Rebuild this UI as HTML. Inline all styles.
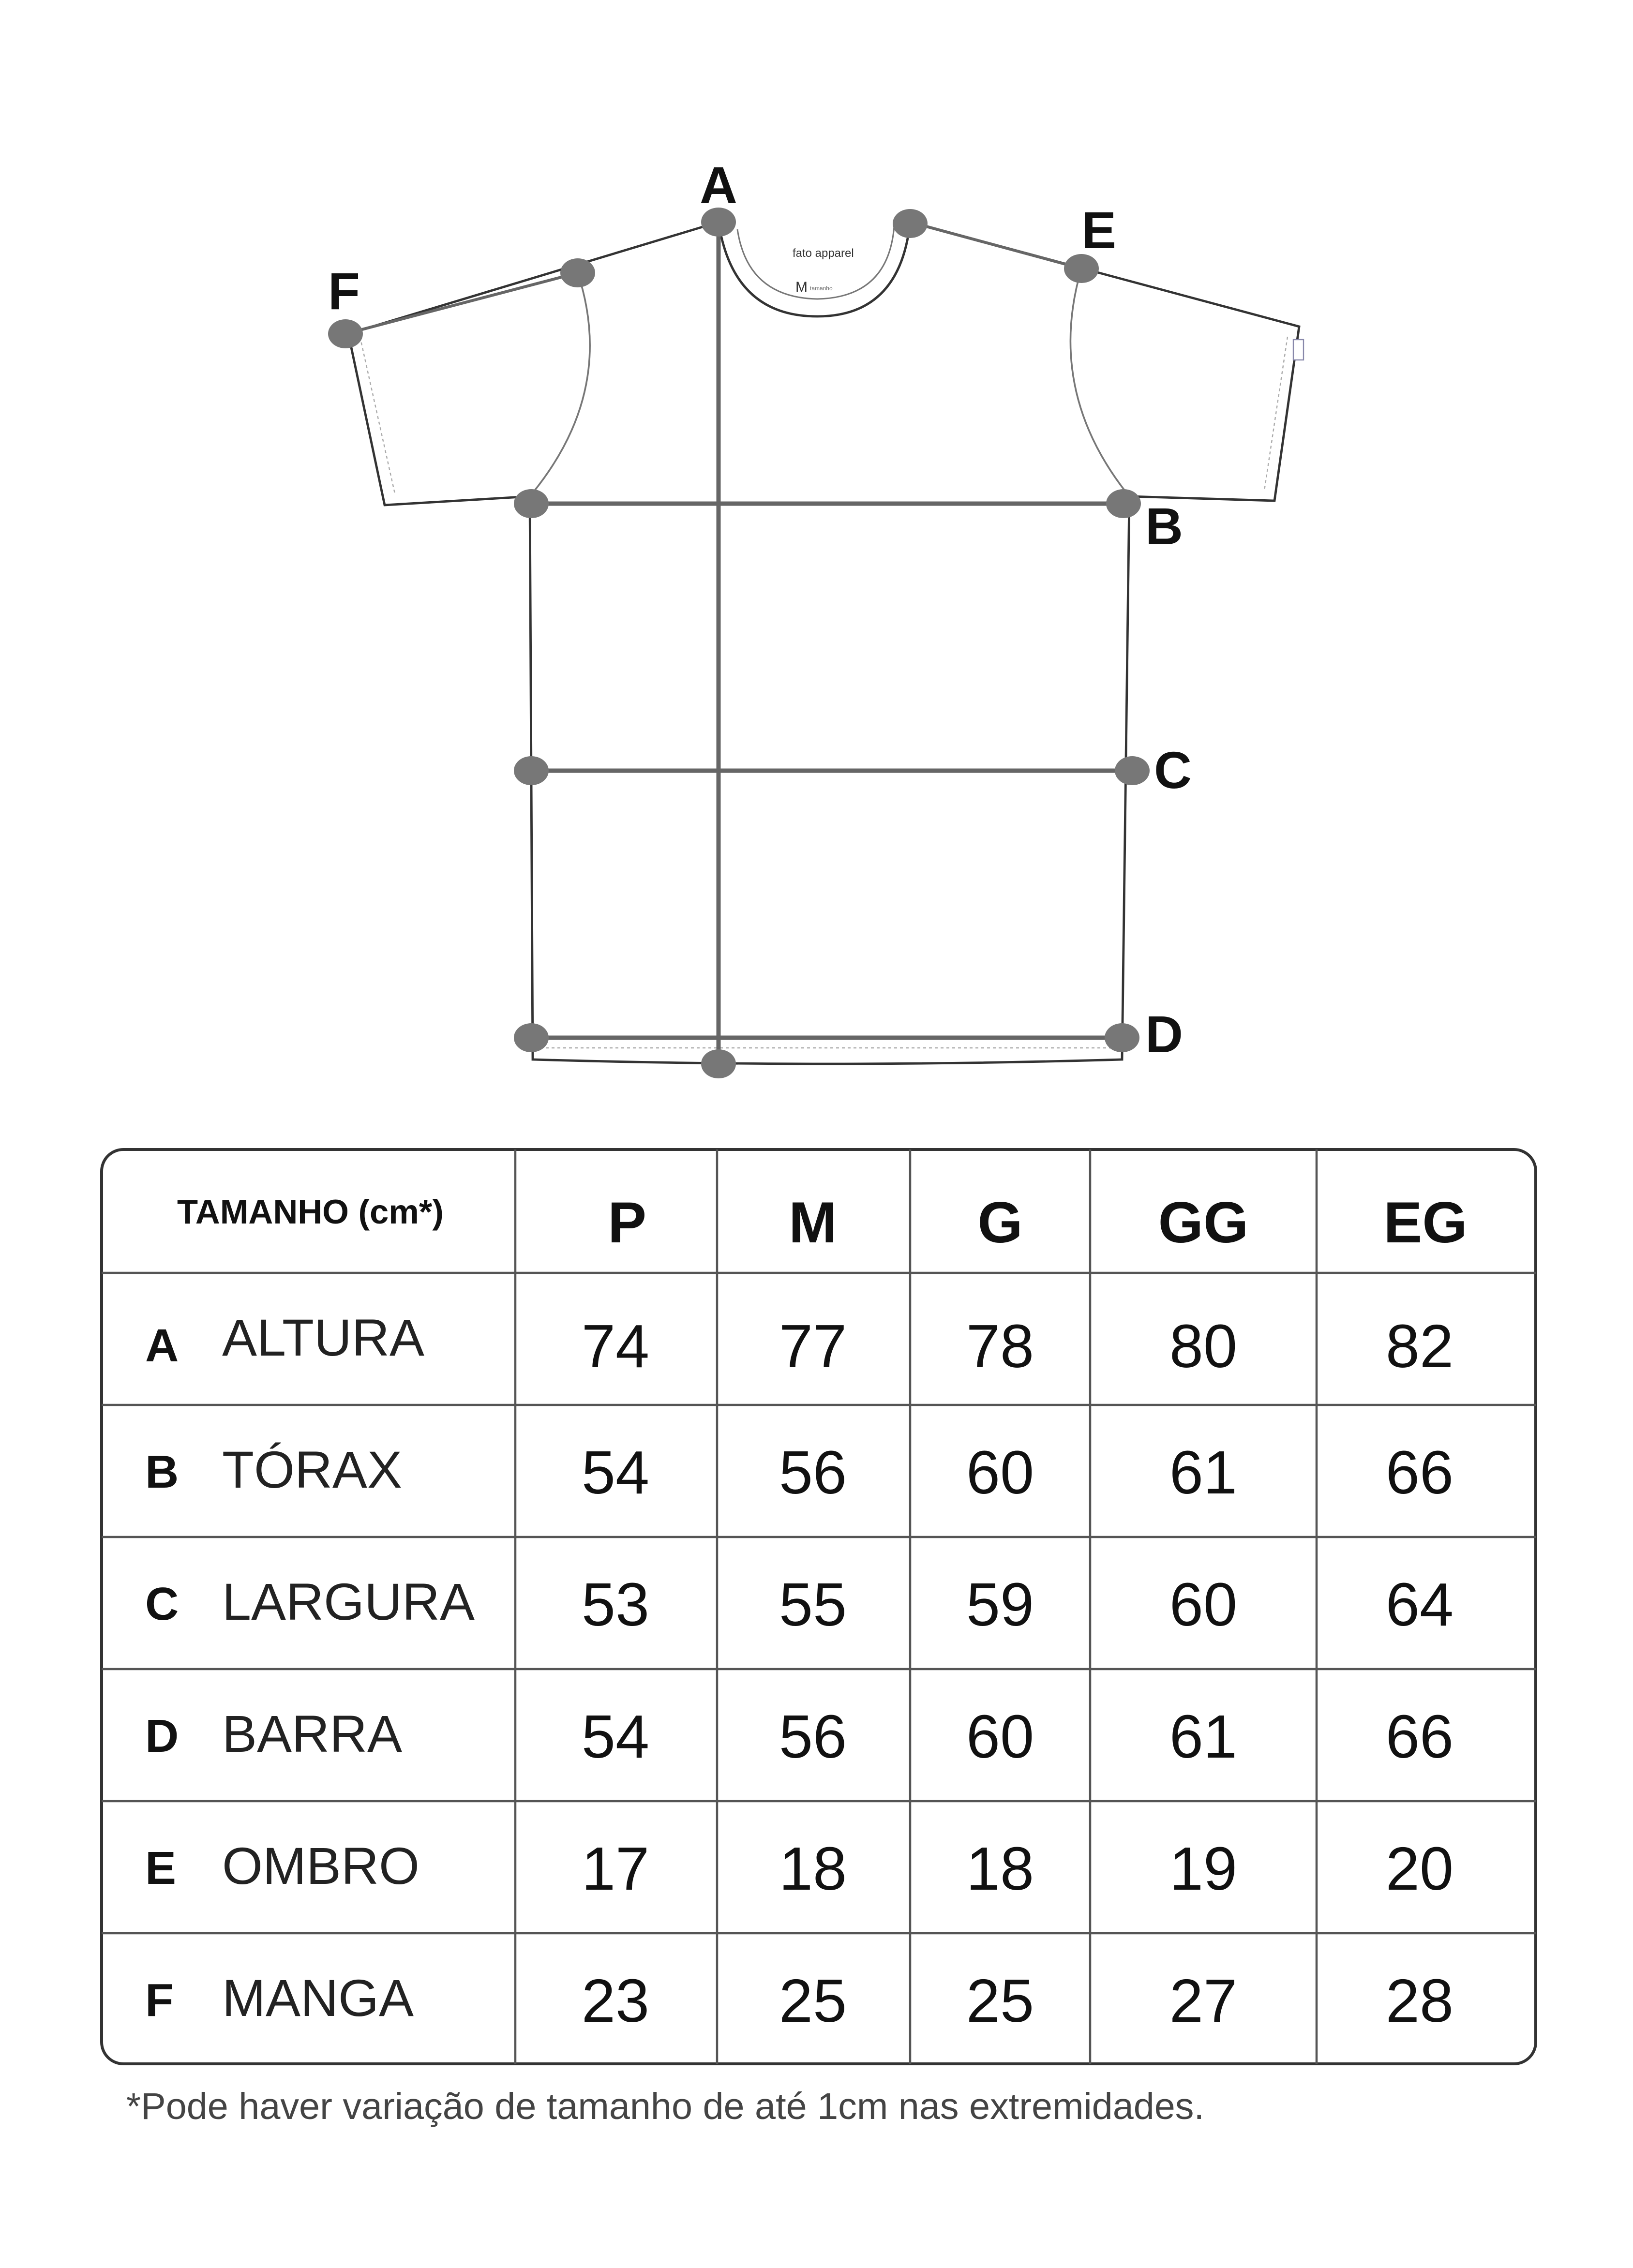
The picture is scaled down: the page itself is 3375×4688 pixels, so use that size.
<!DOCTYPE html>
<html><head><meta charset="utf-8"><style>
html,body{margin:0;padding:0;background:#fff;}
svg{display:block;}
text{font-family:"Liberation Sans",sans-serif;}
</style></head><body>
<svg width="3375" height="4688" viewBox="0 0 1125 1562.67" xmlns="http://www.w3.org/2000/svg">
<rect width="1125" height="1563" fill="#fff"/>
<g fill="none" stroke="#333" stroke-width="1.6">
<path d="M495,153 L240,230 L265,348 L365,342 L367,730 Q570,736 773,730 L778,342 L878,345 L895,225 L627,153"/>
<path d="M495,153 Q505,218 563,218 Q620,218 627,153"/>
<path d="M508,158 Q515,205 563,206 Q612,205 616,156" stroke="#777" stroke-width="1"/>
<path d="M398,188 Q425,270 365,342" stroke="#777" stroke-width="1.2"/>
<path d="M745,185 Q720,270 778,342" stroke="#777" stroke-width="1.2"/>
<path d="M248,232 L272,340" stroke="#aaa" stroke-width="0.8" stroke-dasharray="2,2"/>
<path d="M887,232 L871,338" stroke="#aaa" stroke-width="0.8" stroke-dasharray="2,2"/>
<path d="M368,722 L772,722" stroke="#aaa" stroke-width="0.8" stroke-dasharray="2,2"/>
</g>
<rect x="891" y="234" width="7" height="14" fill="#fff" stroke="#88a" stroke-width="0.8"/>
<text x="546" y="177" font-size="8" fill="#333">fato apparel</text>
<text x="548" y="201" font-size="10" fill="#333">M</text>
<text x="558" y="200" font-size="4" fill="#666">tamanho</text>
<g stroke="#666" stroke-width="3" fill="none">
<line x1="495" y1="153" x2="495" y2="733"/>
<line x1="365" y1="347" x2="775" y2="347"/>
<line x1="365" y1="531" x2="780" y2="531"/>
<line x1="365" y1="715" x2="773" y2="715"/>
<line x1="238" y1="230" x2="398" y2="188" stroke-width="2"/>
<line x1="627" y1="153" x2="745" y2="185" stroke-width="2"/>
</g>
<g fill="#777">
<ellipse cx="495" cy="153" rx="12" ry="10"/><ellipse cx="627" cy="154" rx="12" ry="10"/>
<ellipse cx="745" cy="185" rx="12" ry="10"/><ellipse cx="238" cy="230" rx="12" ry="10"/>
<ellipse cx="398" cy="188" rx="12" ry="10"/><ellipse cx="366" cy="347" rx="12" ry="10"/>
<ellipse cx="774" cy="347" rx="12" ry="10"/><ellipse cx="366" cy="531" rx="12" ry="10"/>
<ellipse cx="780" cy="531" rx="12" ry="10"/><ellipse cx="366" cy="715" rx="12" ry="10"/>
<ellipse cx="773" cy="715" rx="12" ry="10"/><ellipse cx="495" cy="733" rx="12" ry="10"/>
</g>
<g font-weight="bold" font-size="36" fill="#111">
<text x="482" y="140">A</text><text x="745" y="171">E</text><text x="226" y="213">F</text>
<text x="789" y="375">B</text><text x="795" y="543">C</text><text x="789" y="725">D</text>
</g>
<rect x="70" y="792" width="988" height="630" rx="15" fill="none" stroke="#333" stroke-width="2"/>
<g stroke="#555" stroke-width="1.5">
<line x1="355" y1="792" x2="355" y2="1422"/><line x1="494" y1="792" x2="494" y2="1422"/>
<line x1="627" y1="792" x2="627" y2="1422"/><line x1="751" y1="792" x2="751" y2="1422"/>
<line x1="907" y1="792" x2="907" y2="1422"/>
<line x1="70" y1="877" x2="1058" y2="877"/><line x1="70" y1="968" x2="1058" y2="968"/>
<line x1="70" y1="1059" x2="1058" y2="1059"/><line x1="70" y1="1150" x2="1058" y2="1150"/>
<line x1="70" y1="1241" x2="1058" y2="1241"/><line x1="70" y1="1332" x2="1058" y2="1332"/>
</g>
<text x="122" y="843" font-size="23.5" font-weight="bold" fill="#111">TAMANHO (cm*)</text>
<g font-size="40" font-weight="bold" fill="#111" text-anchor="middle">
<text x="432" y="856">P</text><text x="560" y="856">M</text><text x="689" y="856">G</text>
<text x="829" y="856">GG</text><text x="982" y="856">EG</text>
</g>
<g font-size="32" font-weight="bold" fill="#111">
<text x="100" y="938">A</text><text x="100" y="1025">B</text><text x="100" y="1116">C</text>
<text x="100" y="1207">D</text><text x="100" y="1298">E</text><text x="100" y="1389">F</text>
</g>
<g font-size="36" fill="#222">
<text x="153" y="934">ALTURA</text><text x="153" y="1025">TÓRAX</text><text x="153" y="1116">LARGURA</text>
<text x="153" y="1207">BARRA</text><text x="153" y="1298">OMBRO</text><text x="153" y="1389">MANGA</text>
</g>
<g font-size="42" fill="#111" text-anchor="middle">
<text x="424" y="942">74</text><text x="560" y="942">77</text><text x="689" y="942">78</text><text x="829" y="942">80</text><text x="978" y="942">82</text>
<text x="424" y="1029">54</text><text x="560" y="1029">56</text><text x="689" y="1029">60</text><text x="829" y="1029">61</text><text x="978" y="1029">66</text>
<text x="424" y="1120">53</text><text x="560" y="1120">55</text><text x="689" y="1120">59</text><text x="829" y="1120">60</text><text x="978" y="1120">64</text>
<text x="424" y="1211">54</text><text x="560" y="1211">56</text><text x="689" y="1211">60</text><text x="829" y="1211">61</text><text x="978" y="1211">66</text>
<text x="424" y="1302">17</text><text x="560" y="1302">18</text><text x="689" y="1302">18</text><text x="829" y="1302">19</text><text x="978" y="1302">20</text>
<text x="424" y="1393">23</text><text x="560" y="1393">25</text><text x="689" y="1393">25</text><text x="829" y="1393">27</text><text x="978" y="1393">28</text>
</g>
<text x="87" y="1460" font-size="25.8" fill="#444">*Pode haver variação de tamanho de até 1cm nas extremidades.</text>
</svg>
</body></html>
